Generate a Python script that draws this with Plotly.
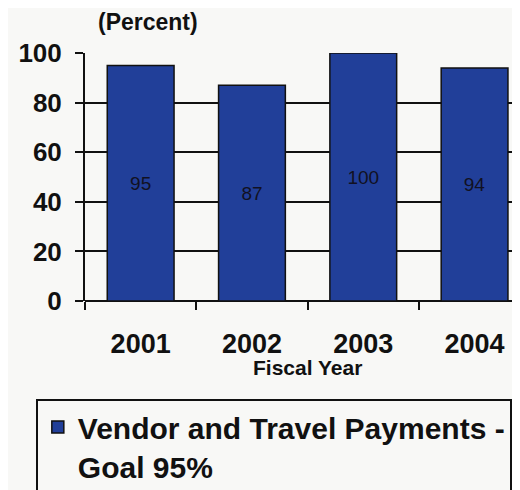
import plotly.graph_objects as go

years = ["2001", "2002", "2003", "2004"]
values = [95, 87, 100, 94]
series_name = "Vendor and Travel Payments -<br>Goal 95%"
y_ticks = [0, 20, 40, 60, 80, 100]

FONT = "Liberation Sans, Arial, sans-serif"
BAR = "#213f99"

fig = go.Figure()
fig.add_trace(go.Bar(
    x=years, y=values, name=series_name,
    marker=dict(color=BAR, line=dict(color="#111111", width=1.5)),
    width=0.6,
    text=[str(v) for v in values], textposition="inside",
    insidetextanchor="middle",
    textfont=dict(family=FONT, size=19, color="#111122"),
    showlegend=True,
))

fig.update_layout(
    width=520, height=490,
    margin=dict(l=77, r=0, t=45, b=197, autoexpand=False),
    paper_bgcolor="#f8f8f6", plot_bgcolor="#f8f8f6",
    font=dict(family=FONT, color="#111111"),
    showlegend=True,
    legend=dict(
        x=-0.111, y=-0.395, xanchor="left", yanchor="top",
        bgcolor="#f8f8f6", bordercolor="#111111", borderwidth=2,
        font=dict(family=FONT, size=30, color="#111111", weight="bold"),
        valign="top",
    ),
    xaxis=dict(
        type="category", range=[-0.5, 3.48],
        tickson="boundaries", ticks="outside", ticklen=8, tickwidth=2, tickcolor="#111111",
        showline=False, showgrid=False, zeroline=False,
        tickfont=dict(family=FONT, size=27, color="#111111", weight="bold"),
        ticklabelstandoff=24,
    ),
    yaxis=dict(
        range=[0, 100], tickvals=y_ticks,
        ticks="outside", ticklen=8, tickwidth=2, tickcolor="#111111",
        showline=True, linecolor="#111111", linewidth=2,
        showgrid=True, gridcolor="#111111", gridwidth=2,
        zeroline=True, zerolinecolor="#111111", zerolinewidth=2,
        tickfont=dict(family=FONT, size=26, color="#111111", weight="bold"),
        ticklabelstandoff=8,
    ),
    annotations=[
        dict(text="Fiscal Year", x=1.5, xref="x", y=-0.27, yref="paper",
             xanchor="center", yanchor="middle", showarrow=False,
             font=dict(family=FONT, size=21, color="#111111", weight="bold")),
        dict(text="(Percent)", x=0.142, xref="paper", y=1.125, yref="paper",
             xanchor="center", yanchor="middle", showarrow=False,
             font=dict(family=FONT, size=23, color="#111111", weight="bold")),
    ],
)

fig.write_html("out.html")
